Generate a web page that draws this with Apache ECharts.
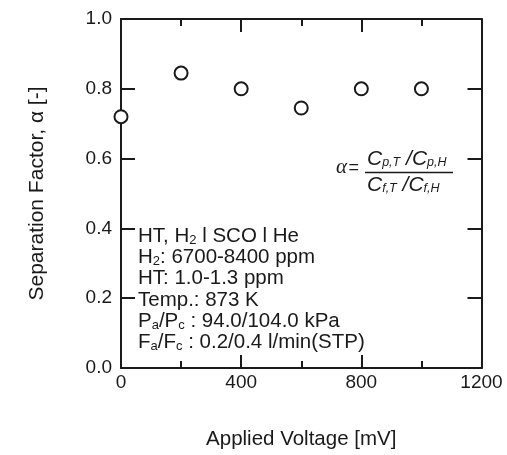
<!DOCTYPE html>
<html>
<head>
<meta charset="utf-8">
<script src="https://cdn.jsdelivr.net/npm/echarts@6/dist/echarts.min.js"></script>
<style>
html,body{margin:0;padding:0;background:#fff;}
#chart{width:507px;height:455px;}
</style>
</head>
<body>
<div id="chart"></div>
<script>
// Data
var voltages = [0, 200, 400, 600, 800, 1000];
var alphaValues = [0.72, 0.845, 0.80, 0.745, 0.80, 0.80];
var xTicks = [0, 400, 800, 1200];
var yTicks = [0.0, 0.2, 0.4, 0.6, 0.8, 1.0];

var FONT = '"Liberation Sans", Arial, Helvetica, sans-serif';
var INK = '#1a1a1a';

var chart = echarts.init(document.getElementById('chart'), null, {renderer: 'canvas'});

var axisLine = {show: true, onZero: false, lineStyle: {color: INK, width: 2}};

var xBase = {
  type: 'value', min: xTicks[0], max: xTicks[xTicks.length - 1], interval: 400,
  axisLine: axisLine,
  axisTick: {show: true, inside: true, length: 13, lineStyle: {color: INK, width: 2}},
  minorTick: {show: true, splitNumber: 2, length: 7, lineStyle: {color: INK, width: 2}},
  splitLine: {show: false}, minorSplitLine: {show: false}
};
var yBase = {
  type: 'value', min: yTicks[0], max: yTicks[yTicks.length - 1], interval: 0.2,
  axisLine: axisLine,
  axisTick: {show: true, inside: true, length: 14, lineStyle: {color: INK, width: 2}},
  splitLine: {show: false}
};

var annotLines = [
  '{t|HT, H}{s|2}{t| l SCO l He}',
  '{t|H}{s|2}{t|: 6700-8400 ppm}',
  '{t|HT: 1.0-1.3 ppm}',
  '{t|Temp.: 873 K}',
  '{t|P}{s|a}{t|/P}{s|c}{t| : 94.0/104.0 kPa}',
  '{t|F}{s|a}{t|/F}{s|c}{t| : 0.2/0.4 l/min(STP)}'
];

var richMain = {
  t: {fontFamily: FONT, fontSize: 20.5, color: INK, lineHeight: 21.3},
  s: {fontFamily: FONT, fontSize: 13, color: INK, verticalAlign: 'bottom', lineHeight: 12}
};
var richFrac = {
  C: {fontFamily: FONT, fontSize: 21, fontStyle: 'italic', color: INK, lineHeight: 20},
  s: {fontFamily: FONT, fontSize: 12.5, fontStyle: 'italic', color: INK, verticalAlign: 'bottom', lineHeight: 12},
  sl: {fontFamily: FONT, fontSize: 21, fontStyle: 'italic', color: INK, lineHeight: 20}
};

var option = {
  backgroundColor: '#fff',
  animation: false,
  grid: {left: 121, right: 25.5, top: 19, bottom: 81, containLabel: false},
  xAxis: [
    Object.assign({}, xBase, {
      position: 'bottom',
      name: 'Applied Voltage [mV]', nameLocation: 'middle', nameGap: 61,
      nameTextStyle: {fontFamily: FONT, fontSize: 20.5, color: INK},
      axisLabel: {show: true, margin: 5, fontFamily: FONT, fontSize: 19, color: INK,
        formatter: function (v) { return String(v); }}
    }),
    Object.assign({}, xBase, {position: 'top', axisLabel: {show: false}})
  ],
  yAxis: [
    Object.assign({}, yBase, {
      position: 'left',
      name: 'Separation Factor, α [-]', nameLocation: 'middle', nameGap: 73,
      nameTextStyle: {fontFamily: FONT, fontSize: 21, color: INK},
      axisLabel: {show: true, margin: 9, fontFamily: FONT, fontSize: 19, color: INK,
        formatter: function (v) { return v.toFixed(1); }}
    }),
    Object.assign({}, yBase, {position: 'right', axisLabel: {show: false}})
  ],
  series: [{
    type: 'scatter',
    xAxisIndex: 0, yAxisIndex: 0,
    data: voltages.map(function (v, i) { return [v, alphaValues[i]]; }),
    symbol: 'circle', symbolSize: 13,
    clip: false,
    itemStyle: {color: '#fff', borderColor: INK, borderWidth: 2, opacity: 1},
    z: 5
  }],
  graphic: [
    {
      type: 'text', left: 138, top: 225.5, z: 10,
      style: {text: annotLines.join('\n'), rich: richMain, fill: INK}
    },
    {
      type: 'text', left: 336, top: 157, z: 10,
      style: {text: 'α', font: 'italic 21px "Liberation Serif", "Times New Roman", serif', fill: INK}
    },
    {
      type: 'text', left: 348.5, top: 159, z: 10,
      style: {text: '=', font: '18px ' + FONT, fill: INK}
    },
    {
      type: 'text', left: 367, top: 149, z: 10,
      style: {text: '{C|C}{s|p,T}{sl| /}{C|C}{s|p,H}', rich: richFrac, fill: INK}
    },
    {
      type: 'line', z: 10,
      shape: {x1: 365, y1: 172.5, x2: 453, y2: 172.5},
      style: {stroke: INK, lineWidth: 1.3}
    },
    {
      type: 'text', left: 367, top: 175, z: 10,
      style: {text: '{C|C}{s|f,T}{sl| /}{C|C}{s|f,H}', rich: richFrac, fill: INK}
    }
  ]
};
chart.setOption(option);
</script>
</body>
</html>
